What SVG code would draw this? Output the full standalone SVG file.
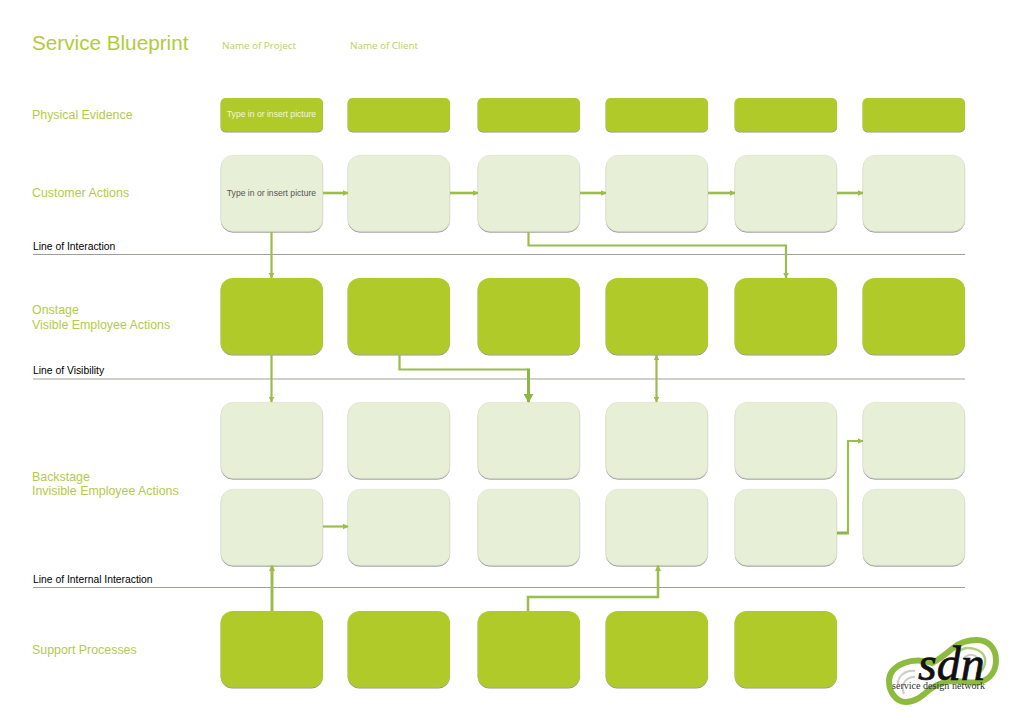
<svg xmlns="http://www.w3.org/2000/svg" width="1024" height="723" viewBox="0 0 1024 723">
<style>
text{font-family:"Liberation Sans",Arial,sans-serif}
.lab{fill:#b4ca4c;font-size:12.4px}
.title{fill:#b2cb3c;font-size:20.7px}
.meta{fill:#b9cf68;font-size:9.85px;font-family:"Open Sans","Noto Sans",sans-serif}
.line{fill:#000;font-size:10.35px}
.sep{stroke:#a0a09a;stroke-width:1;fill:none}
.dark{fill:#b0ca2c;filter:url(#sh)}
.light{fill:#e7efd6;stroke:#dde3cd;stroke-width:.6;filter:url(#sh)}
.note{font-size:8.6px;text-anchor:middle}
.c{fill:none;stroke:#9cbd4b;stroke-width:2.2}
.c3{fill:none;stroke:#8fb545;stroke-width:3}
.logo{fill:none;stroke:#8dbb3f}
</style>
<defs>
<filter id="sh" x="-5%" y="-5%" width="110%" height="115%"><feDropShadow dx="0" dy="1" stdDeviation=".7" flood-color="#444" flood-opacity=".6"/></filter>
<marker id="a" viewBox="0 0 10 10" refX="9" refY="5" markerUnits="userSpaceOnUse" markerWidth="6" markerHeight="6" orient="auto-start-reverse"><path d="M0 0L10 5L0 10z" fill="#9cbd4b"/></marker>
<marker id="b" viewBox="0 0 10 10" refX="9" refY="5" markerUnits="userSpaceOnUse" markerWidth="9" markerHeight="10" orient="auto" preserveAspectRatio="none"><path d="M0 0L10 5L0 10z" fill="#8fb545"/></marker>
</defs>

<g id="header">
<text class="title" x="32" y="49.500">Service Blueprint</text>
<text class="meta" x="222" y="49">Name of Project</text>
<text class="meta" x="350" y="49">Name of Client</text>
</g>
<g id="labels">
<text class="lab" x="32" y="119">Physical Evidence</text>
<text class="lab" x="32" y="197">Customer Actions</text>
<text class="lab" x="32" y="314">Onstage</text>
<text class="lab" x="32" y="329">Visible Employee Actions</text>
<text class="lab" x="32" y="481">Backstage</text>
<text class="lab" x="32" y="495">Invisible Employee Actions</text>
<text class="lab" x="32" y="654">Support Processes</text>
</g>
<g id="separators">
<text class="line" x="33" y="250">Line of Interaction</text>
<path class="sep" d="M33 254.500H965"/>
<text class="line" x="33" y="374">Line of Visibility</text>
<path class="sep" d="M33 379H965"/>
<text class="line" x="33" y="583">Line of Internal Interaction</text>
<path class="sep" d="M33 587.500H965"/>
</g>

<g id="physical-evidence">
<g id="pe1"><rect class="dark" x="220.600" y="98" width="102.400" height="33.500" rx="5"/><text class="note" x="271.500" y="117" fill="#f2f6dc">Type in or insert picture</text></g>
<g id="pe2"><rect class="dark" x="347.600" y="98" width="102.400" height="33.500" rx="5"/></g>
<g id="pe3"><rect class="dark" x="477.600" y="98" width="102.400" height="33.500" rx="5"/></g>
<g id="pe4"><rect class="dark" x="605.600" y="98" width="102.400" height="33.500" rx="5"/></g>
<g id="pe5"><rect class="dark" x="734.600" y="98" width="102.400" height="33.500" rx="5"/></g>
<g id="pe6"><rect class="dark" x="862.600" y="98" width="102.400" height="33.500" rx="5"/></g>
</g>
<g id="customer-actions">
<g id="ca1"><rect class="light" x="221" y="155.300" width="101.700" height="76" rx="12"/><text class="note" x="271.500" y="195.500" fill="#555">Type in or insert picture</text></g>
<g id="ca2"><rect class="light" x="348" y="155.300" width="101.700" height="76" rx="12"/></g>
<g id="ca3"><rect class="light" x="478" y="155.300" width="101.700" height="76" rx="12"/></g>
<g id="ca4"><rect class="light" x="606" y="155.300" width="101.700" height="76" rx="12"/></g>
<g id="ca5"><rect class="light" x="735" y="155.300" width="101.700" height="76" rx="12"/></g>
<g id="ca6"><rect class="light" x="863" y="155.300" width="101.700" height="76" rx="12"/></g>
</g>
<g id="onstage">
<g id="on1"><rect class="dark" x="220.600" y="278" width="102.400" height="76.500" rx="12"/></g>
<g id="on2"><rect class="dark" x="347.600" y="278" width="102.400" height="76.500" rx="12"/></g>
<g id="on3"><rect class="dark" x="477.600" y="278" width="102.400" height="76.500" rx="12"/></g>
<g id="on4"><rect class="dark" x="605.600" y="278" width="102.400" height="76.500" rx="12"/></g>
<g id="on5"><rect class="dark" x="734.600" y="278" width="102.400" height="76.500" rx="12"/></g>
<g id="on6"><rect class="dark" x="862.600" y="278" width="102.400" height="76.500" rx="12"/></g>
</g>
<g id="backstage-a">
<g id="ba1"><rect class="light" x="221" y="402.300" width="101.700" height="76" rx="12"/></g>
<g id="ba2"><rect class="light" x="348" y="402.300" width="101.700" height="76" rx="12"/></g>
<g id="ba3"><rect class="light" x="478" y="402.300" width="101.700" height="76" rx="12"/></g>
<g id="ba4"><rect class="light" x="606" y="402.300" width="101.700" height="76" rx="12"/></g>
<g id="ba5"><rect class="light" x="735" y="402.300" width="101.700" height="76" rx="12"/></g>
<g id="ba6"><rect class="light" x="863" y="402.300" width="101.700" height="76" rx="12"/></g>
</g>
<g id="backstage-b">
<g id="bb1"><rect class="light" x="221" y="489.300" width="101.700" height="76" rx="12"/></g>
<g id="bb2"><rect class="light" x="348" y="489.300" width="101.700" height="76" rx="12"/></g>
<g id="bb3"><rect class="light" x="478" y="489.300" width="101.700" height="76" rx="12"/></g>
<g id="bb4"><rect class="light" x="606" y="489.300" width="101.700" height="76" rx="12"/></g>
<g id="bb5"><rect class="light" x="735" y="489.300" width="101.700" height="76" rx="12"/></g>
<g id="bb6"><rect class="light" x="863" y="489.300" width="101.700" height="76" rx="12"/></g>
</g>
<g id="support">
<g id="sp1"><rect class="dark" x="220.600" y="611" width="102.400" height="76.500" rx="12"/></g>
<g id="sp2"><rect class="dark" x="347.600" y="611" width="102.400" height="76.500" rx="12"/></g>
<g id="sp3"><rect class="dark" x="477.600" y="611" width="102.400" height="76.500" rx="12"/></g>
<g id="sp4"><rect class="dark" x="605.600" y="611" width="102.400" height="76.500" rx="12"/></g>
<g id="sp5"><rect class="dark" x="734.600" y="611" width="102.400" height="76.500" rx="12"/></g>
</g>

<g id="connectors">
<path class="c" style="stroke-width:2.600" marker-end="url(#a)" d="M323 193H348"/>
<path class="c" style="stroke-width:2.600" marker-end="url(#a)" d="M450 193H478"/>
<path class="c" style="stroke-width:2.600" marker-end="url(#a)" d="M580 193H606"/>
<path class="c" style="stroke-width:2.600" marker-end="url(#a)" d="M708 193H735"/>
<path class="c" style="stroke-width:2.600" marker-end="url(#a)" d="M837 193H863"/>
<path class="c" marker-end="url(#a)" d="M271.500 232V278"/>
<path class="c" marker-end="url(#a)" d="M528.500 232V245.500H786V278"/>
<path class="c" marker-end="url(#a)" d="M271.500 355V402"/>
<path class="c" d="M399.500 355V369.500H528.500"/>
<path class="c3" marker-end="url(#b)" d="M528.500 368.500V402"/>
<path class="c" marker-start="url(#a)" marker-end="url(#a)" d="M656.500 355V402"/>
<path class="c" marker-end="url(#a)" d="M323 526.500H348"/>
<path class="c3" d="M837 533H849"/>
<path class="c" marker-end="url(#a)" d="M848 534V441H863"/>
<path class="c" style="stroke-width:3" marker-end="url(#a)" d="M272 611V565.500"/>
<path class="c" style="stroke-width:2.500" marker-end="url(#a)" d="M528 611V597H658V565.500"/>
</g>

<g id="logo">
<path class="logo" stroke-width="6" d="M932 663C923 660 912 660 904 663C894 667 889 673 889 681C889 692 896 702 906 702C916 702 923 695 929 690C937 684 945 681 954 681C963 681 972 684 980 682C991 679 996 670 996 660C996 648 988 640 977 640C966 640 959 643 953 648C946 654 940 659 932 663Z"/>
<path class="logo" stroke-width="2.500" opacity=".7" d="M958 652C966 645 982 648 985 658C986 666 982 672 976 674"/>
<path class="logo" stroke-width="2" opacity=".5" style="stroke:#9a9a9a" d="M964 658C970 652 978 655 979 662M898 684C898 675 906 670 915 671M904 694C900 684 906 677 915 677"/>
<text x="918" y="680" font-size="48" font-style="italic" stroke="#111" stroke-width=".7" style="font-family:'Liberation Serif',serif" fill="#111">sdn</text>
<text x="892" y="688.500" font-size="10" style="font-family:'Liberation Serif',serif" fill="#333" textLength="93" lengthAdjust="spacingAndGlyphs">service design network</text>
</g>
</svg>
